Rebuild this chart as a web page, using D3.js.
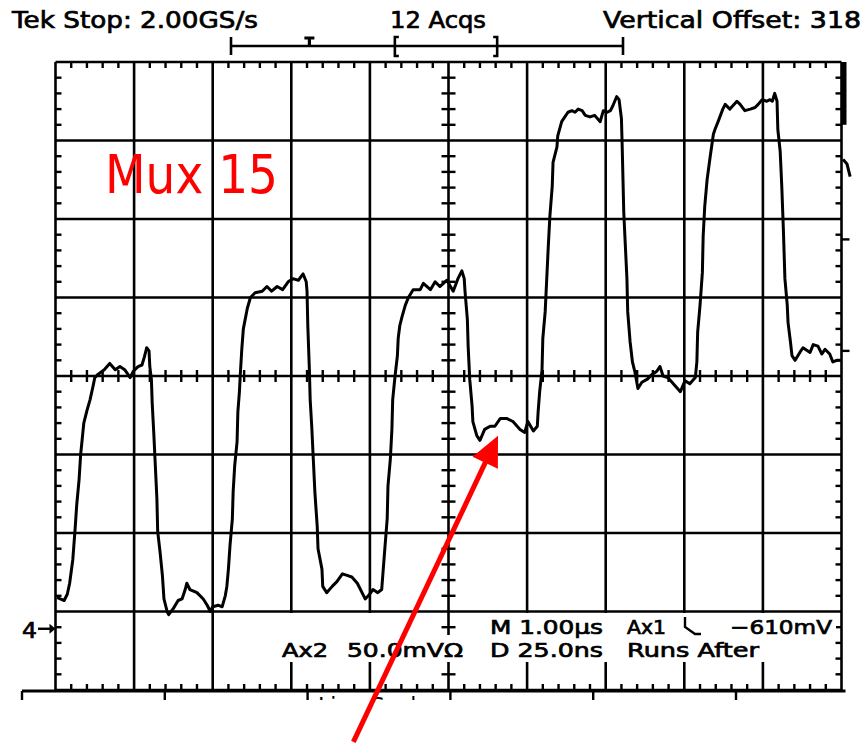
<!DOCTYPE html>
<html>
<head>
<meta charset="utf-8">
<script src="https://cdn.jsdelivr.net/npm/d3@7"></script>
<style>
  body { margin: 0; background: #fff; }
  svg { display: block; }
  text { font-family: 'DejaVu Sans', sans-serif; fill: #000; }
</style>
</head>
<body>
<script>
// scope trace, 1.00 us/div horizontally, 50.0 mV/div vertically (0 = screen centre)
const traceTimeUs = [
  0.02, 0.06, 0.11, 0.15, 0.18, 0.22, 0.25, 0.27, 0.30, 0.32, 0.34, 0.36, 0.40, 0.44, 0.48, 0.50,
  0.54, 0.62, 0.69, 0.76, 0.82, 0.88, 0.95, 0.99, 1.05, 1.10, 1.13, 1.16, 1.19, 1.20, 1.22, 1.23,
  1.25, 1.27, 1.29, 1.30, 1.33, 1.36, 1.38, 1.42, 1.44, 1.50, 1.56, 1.61, 1.65, 1.67, 1.71, 1.80,
  1.88, 1.93, 1.97, 2.00, 2.07, 2.12, 2.16, 2.18, 2.20, 2.22, 2.25, 2.26, 2.28, 2.31, 2.32, 2.34,
  2.35, 2.37, 2.39, 2.44, 2.48, 2.54, 2.63, 2.69, 2.75, 2.82, 2.89, 2.96, 3.02, 3.09, 3.15, 3.19,
  3.20, 3.21, 3.23, 3.24, 3.26, 3.28, 3.30, 3.33, 3.34, 3.39, 3.40, 3.45, 3.52, 3.58, 3.65, 3.71,
  3.77, 3.84, 3.90, 3.94, 3.98, 4.04, 4.10, 4.15, 4.17, 4.19, 4.22, 4.23, 4.26, 4.28, 4.29, 4.32,
  4.35, 4.36, 4.38, 4.41, 4.45, 4.49, 4.55, 4.64, 4.68, 4.77, 4.83, 4.89, 4.98, 5.06, 5.12, 5.17,
  5.20, 5.21, 5.24, 5.25, 5.27, 5.30, 5.31, 5.36, 5.40, 5.46, 5.53, 5.59, 5.66, 5.74, 5.82, 5.91,
  5.97, 6.01, 6.08, 6.13, 6.14, 6.16, 6.19, 6.20, 6.23, 6.25, 6.27, 6.29, 6.32, 6.33, 6.38, 6.39,
  6.44, 6.48, 6.52, 6.57, 6.61, 6.65, 6.70, 6.74, 6.80, 6.86, 6.93, 6.97, 7.02, 7.06, 7.09, 7.14,
  7.17, 7.20, 7.21, 7.22, 7.23, 7.25, 7.27, 7.28, 7.31, 7.34, 7.37, 7.41, 7.46, 7.53, 7.59, 7.65,
  7.69, 7.73, 7.79, 7.88, 7.95, 8.01, 8.07, 8.14, 8.16, 8.17, 8.20, 8.23, 8.24, 8.26, 8.29, 8.33,
  8.37, 8.39, 8.43, 8.49, 8.52, 8.58, 8.67, 8.71, 8.77, 8.84, 8.90, 8.94, 8.99, 9.05, 9.09, 9.12,
  9.15, 9.18, 9.19, 9.22, 9.24, 9.26, 9.28, 9.31, 9.32, 9.35, 9.37, 9.41, 9.47, 9.51, 9.60, 9.64,
  9.70, 9.75, 9.79, 9.85, 9.89, 9.94, 9.98
]
const traceMilliVolts = [
  -141, -142, -143, -139, -132, -117, -97, -82, -66, -50, -40, -30, -22, -15, -6, -1,
  1, 4, 8, 4, 6, 4, -1, 3, 6, 7, 12, 18, 16, 6, -2, -17,
  -36, -57, -78, -99, -112, -127, -142, -150, -152, -148, -143, -142, -136, -132, -136, -138,
  -142, -146, -150, -147, -146, -147, -140, -134, -123, -108, -91, -74, -57, -42, -23, -10,
  0, 17, 30, 43, 50, 53, 54, 57, 54, 57, 55, 60, 62, 61, 65, 60,
  54, 32, 4, -15, -32, -53, -74, -96, -110, -123, -134, -138, -134, -131, -126, -127,
  -128, -132, -138, -142, -140, -136, -138, -136, -123, -110, -91, -70, -53, -34, -15, 0,
  13, 24, 32, 38, 45, 50, 55, 55, 59, 55, 60, 57, 61, 54, 62, 67,
  62, 54, 36, 19, -2, -19, -29, -38, -41, -34, -32, -32, -27, -27, -29, -34,
  -36, -29, -35, -32, -23, -10, 4, 24, 41, 62, 83, 102, 121, 136, 146, 153,
  162, 165, 168, 169, 168, 170, 169, 166, 165, 166, 162, 169, 168, 169, 172, 178,
  176, 164, 146, 125, 104, 83, 62, 41, 22, 9, 3, -8, -4, -2, 1, 3,
  6, 0, -1, -6, -10, -3, -5, -1, 9, 28, 45, 66, 89, 108, 125, 140,
  154, 157, 162, 170, 173, 170, 175, 173, 169, 170, 171, 173, 176, 175, 176, 175,
  180, 175, 157, 143, 121, 94, 62, 45, 34, 22, 13, 10, 15, 18, 15, 20,
  19, 14, 17, 14, 9, 10, 10
]
// bit of trace drawn past the right edge of the graticule
const overrunTimeUs = [10.02, 10.07, 10.11]
const overrunMilliVolts = [138, 135, 127]

const timeDivs = d3.range(0, 11)
const voltDivs = d3.range(-200, 201, 50)
const groundMarkerMv = -161
const headerLabels = ['Tek Stop: 2.00GS/s', '12 Acqs', 'Vertical Offset: 318']
const readoutRow1 = ['M 1.00µs', 'Ax1', '\u2212610mV']
const readoutRow2 = ['Ax2', '50.0mV\u03A9', 'D 25.0ns', 'Runs After']
const recordMarks = [0.2, 0.418, 0.679]   // trigger, window start, window end
const arrowTip = [5.63, -38]
const arrowTail = [3.79, -233]
const titleText = 'Mux 15'

const width = 863
const height = 743

const svg = d3.select('body')
    .append('svg')
    .attr('width', width)
    .attr('height', height)

const x = d3.scaleLinear().domain([0, 10]).range([55.5, 841.5])
const y = d3.scaleLinear().domain([-200, 200]).range([690, 62])

const grid = svg.append('g').attr('stroke', '#000').attr('stroke-width', 2.6)

grid.selectAll('.vline')
    .data(timeDivs)
    .enter().append('line')
    .attr('x1', d => x(d)).attr('x2', d => x(d))
    .attr('y1', y(200)).attr('y2', y(-200))

grid.selectAll('.hline')
    .data(voltDivs)
    .enter().append('line')
    .attr('x1', x(0)).attr('x2', x(10))
    .attr('y1', d => y(d)).attr('y2', d => y(d))

// minor ticks, 5 per division
const minorT = d3.range(1, 50).filter(i => i % 5).map(i => i / 5)
const minorV = d3.range(-190, 200, 10).filter(v => v % 50 !== 0)
const ticks = svg.append('g').attr('stroke', '#000').attr('stroke-width', 2.4)

const tickRows = [
    { at: 200, dir: 1 }, { at: -200, dir: -1 }
]
tickRows.forEach(r => {
    ticks.selectAll(null).data(minorT).enter().append('line')
        .attr('x1', d => x(d)).attr('x2', d => x(d))
        .attr('y1', y(r.at)).attr('y2', y(r.at) + r.dir * 6)
})
ticks.selectAll(null).data(minorT).enter().append('line')
    .attr('x1', d => x(d)).attr('x2', d => x(d))
    .attr('y1', y(0) - 6).attr('y2', y(0) + 6)

const tickCols = [
    { at: 0, dir: 1 }, { at: 10, dir: -1 }
]
tickCols.forEach(c => {
    ticks.selectAll(null).data(minorV).enter().append('line')
        .attr('y1', d => y(d)).attr('y2', d => y(d))
        .attr('x1', x(c.at)).attr('x2', x(c.at) + c.dir * 6)
})
ticks.selectAll(null).data(minorV).enter().append('line')
    .attr('y1', d => y(d)).attr('y2', d => y(d))
    .attr('x1', x(5) - 7).attr('x2', x(5) + 7)

// right edge bits
svg.append('rect')
    .attr('x', x(10)).attr('y', y(200))
    .attr('width', 5).attr('height', y(160) - y(200))
svg.selectAll('.outtick')
    .data([87, 16])
    .enter().append('line')
    .attr('x1', x(10)).attr('x2', x(10) + 8)
    .attr('y1', d => y(d)).attr('y2', d => y(d))
    .attr('stroke', '#000').attr('stroke-width', 2.4)

// lower record strip, partly cut off
const strip = d3.scaleLinear().domain([0, 6]).range([22, 878.8])
svg.append('line')
    .attr('x1', strip(0)).attr('x2', x(10) + 4)
    .attr('y1', 691).attr('y2', 691)
    .attr('stroke', '#000').attr('stroke-width', 3)
svg.selectAll('.stick')
    .data(d3.range(0, 6))
    .enter().append('line')
    .attr('x1', d => strip(d)).attr('x2', d => strip(d))
    .attr('y1', 691).attr('y2', 700)
    .attr('stroke', '#000').attr('stroke-width', 2.4)

svg.append('clipPath').attr('id', 'stripClip')
    .append('rect').attr('x', 0).attr('y', 692).attr('width', width).attr('height', 8)
svg.append('text')
    .attr('x', 318).attr('y', 714)
    .attr('font-size', 23)
    .attr('textLength', 112).attr('lengthAdjust', 'spacingAndGlyphs')
    .attr('clip-path', 'url(#stripClip)')
    .text('Line Scale')

// readout boxes blank out the graticule
const boxes = [
    [279, 613, 161, 23], [486, 613, 350, 23], [279, 635, 486, 27]
]
svg.selectAll('.box')
    .data(boxes)
    .enter().append('rect')
    .attr('x', d => d[0]).attr('y', d => d[1])
    .attr('width', d => d[2]).attr('height', d => d[3])
    .attr('fill', '#fff')

const label = (txt, px, py, len, size) => svg.append('text')
    .attr('x', px).attr('y', py)
    .attr('font-size', size || 23)
    .attr('textLength', len).attr('lengthAdjust', 'spacingAndGlyphs')
    .style('stroke', '#000').style('stroke-width', 0.7)
    .text(txt)

label(headerLabels[0], 12, 28, 246)
label(headerLabels[1], 390, 28, 96)
label(headerLabels[2], 603, 28, 258)

label(readoutRow1[0], 490, 634, 113, 19.5)
label(readoutRow1[1], 627, 634, 39, 19.5)
label(readoutRow1[2], 730, 634, 102, 19.5)
label(readoutRow2[0], 282, 657, 46, 19.5)
label(readoutRow2[1], 347, 657, 116, 19.5)
label(readoutRow2[2], 490, 657, 113, 19.5)
label(readoutRow2[3], 627, 657, 132, 19.5)

// falling edge trigger glyph
svg.append('path')
    .attr('d', 'M685,617 V627 L695,634 H701')
    .attr('fill', 'none').attr('stroke', '#000').attr('stroke-width', 2.4)

// ground marker "4->"
label('4', 22, 638, 15, 21)
svg.append('line')
    .attr('x1', 38).attr('x2', x(0) - 4)
    .attr('y1', y(groundMarkerMv)).attr('y2', y(groundMarkerMv))
    .attr('stroke', '#000').attr('stroke-width', 2.4)
svg.append('path')
    .attr('d', d3.line()([[x(0) - 6, y(groundMarkerMv) - 5], [x(0), y(groundMarkerMv)], [x(0) - 6, y(groundMarkerMv) + 5]]))
    .attr('fill', '#000')

// record length bar
const rec = d3.scaleLinear().domain([0, 1]).range([231, 623])
const bar = svg.append('g').attr('stroke', '#000').attr('stroke-width', 2.6).attr('fill', 'none')
bar.append('line').attr('x1', rec(0)).attr('x2', rec(1)).attr('y1', 46).attr('y2', 46)
bar.selectAll('.end').data([0, 1]).enter().append('line')
    .attr('x1', d => rec(d)).attr('x2', d => rec(d)).attr('y1', 37).attr('y2', 55)
bar.append('path')
    .attr('d', 'M' + (rec(recordMarks[0]) - 5) + ',38 H' + (rec(recordMarks[0]) + 5) +
        ' M' + rec(recordMarks[0]) + ',38 V46')
    .attr('stroke-width', 3.2)
bar.append('path')
    .attr('d', 'M' + (rec(recordMarks[1]) + 4) + ',37 H' + rec(recordMarks[1]) + ' V56 H' + (rec(recordMarks[1]) + 4))
bar.append('path')
    .attr('d', 'M' + (rec(recordMarks[2]) - 4) + ',37 H' + rec(recordMarks[2]) + ' V56 H' + (rec(recordMarks[2]) - 4))

// the trace
const line = d3.line().x(d => x(d[0])).y(d => y(d[1]))
svg.append('path')
    .datum(d3.zip(traceTimeUs, traceMilliVolts))
    .attr('d', line)
    .attr('fill', 'none')
    .attr('stroke', '#000')
    .attr('stroke-width', 3)
    .attr('stroke-linejoin', 'round')
svg.append('path')
    .datum(d3.zip(overrunTimeUs, overrunMilliVolts))
    .attr('d', line)
    .attr('fill', 'none')
    .attr('stroke', '#000')
    .attr('stroke-width', 3)

// annotation
svg.append('text')
    .attr('x', 105).attr('y', 193)
    .attr('font-family', "'Comic Sans MS', 'Comic Neue', 'DejaVu Sans', sans-serif")
    .attr('font-size', 54)
    .attr('textLength', 173).attr('lengthAdjust', 'spacingAndGlyphs')
    .style('fill', '#ff0000')
    .text(titleText)

const tip = [x(arrowTip[0]), y(arrowTip[1])]
const tail = [x(arrowTail[0]), y(arrowTail[1])]
const len = Math.hypot(tip[0] - tail[0], tip[1] - tail[1])
const ux = (tip[0] - tail[0]) / len
const uy = (tip[1] - tail[1]) / len
const base = [tip[0] - 30 * ux, tip[1] - 30 * uy]
svg.append('line')
    .attr('x1', tail[0]).attr('y1', tail[1])
    .attr('x2', base[0] + 4 * ux).attr('y2', base[1] + 4 * uy)
    .attr('stroke', '#ff0000').attr('stroke-width', 5)
svg.append('path')
    .attr('d', d3.line()([tip, [base[0] - 14 * uy, base[1] + 14 * ux], [base[0] + 14 * uy, base[1] - 14 * ux]]) + 'Z')
    .attr('fill', '#ff0000')
</script>
</body>
</html>
